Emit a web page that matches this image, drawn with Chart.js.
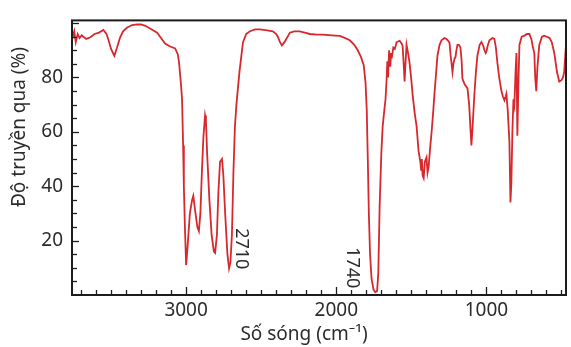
<!DOCTYPE html>
<html lang="vi">
<head>
<meta charset="utf-8">
<script src="https://cdn.jsdelivr.net/npm/chart.js@4.4.0/dist/chart.umd.min.js"></script>
<style>
    html, body { margin: 0; padding: 0; background: #ffffff; }
    #wrap { width: 571px; height: 347px; position: relative; }
</style>
</head>
<body>
<div id="wrap"><canvas id="irChart"></canvas></div>
<script>
// Dữ liệu phổ IR (số sóng cm-1 / độ truyền qua %)
const soSong = [
    3760, 3745, 3735, 3722, 3710, 3695, 3684, 3665, 3638, 3610, 3580, 3551, 3530, 3518, 3500, 3478,
    3460, 3440, 3420, 3392, 3360, 3326, 3300, 3272, 3240, 3193, 3160, 3140, 3110, 3073, 3055, 3047,
    3035, 3027, 3020, 3015, 3008, 3000, 2990, 2975, 2960, 2952, 2940, 2925, 2915, 2905, 2895, 2885,
    2874, 2868, 2860, 2845, 2830, 2815, 2807, 2795, 2785, 2774, 2761, 2752, 2740, 2725, 2714, 2705,
    2695, 2685, 2675, 2665, 2655, 2645, 2630, 2621, 2600, 2575, 2540, 2508, 2460, 2422, 2400, 2389,
    2375, 2362, 2345, 2329, 2309, 2280, 2243, 2210, 2176, 2130, 2090, 2030, 1977, 1940, 1910, 1880,
    1857, 1835, 1817, 1805, 1797, 1790, 1783, 1775, 1765, 1752, 1740, 1728, 1720, 1711, 1700, 1691,
    1680, 1672, 1665, 1660, 1655, 1648, 1640, 1635, 1631, 1620, 1610, 1598, 1578, 1565, 1558, 1550,
    1545, 1538, 1532, 1522, 1512, 1500, 1492, 1478, 1465, 1452, 1440, 1435, 1430, 1425, 1418, 1410,
    1399, 1392, 1385, 1375, 1365, 1355, 1346, 1336, 1326, 1312, 1299, 1280, 1266, 1255, 1246, 1238,
    1230, 1226, 1220, 1212, 1206, 1200, 1193, 1183, 1173, 1165, 1160, 1145, 1126, 1115, 1105, 1100,
    1092, 1080, 1070, 1060, 1045, 1033, 1020, 1013, 1005, 1000, 990, 980, 960, 947, 937, 927,
    915, 900, 890, 880, 872, 867, 858, 847, 840, 834, 827, 820, 814, 806, 800, 794,
    786, 780, 765, 747, 730, 714, 700, 690, 681, 675, 668, 660, 648, 630, 615, 598,
    581, 565, 548, 530, 515, 500, 490, 482, 475, 470
];
const doTruyenQua = [
    94, 97, 93, 96, 94.5, 95.5, 95, 94.2, 94.8, 96, 96.5, 97.5, 96, 94, 90.5, 88,
    91, 94.7, 97, 98.4, 99.3, 99.5, 99.5, 99, 98, 96.5, 94, 92.5, 91.5, 90.7, 88.5, 85.5,
    78, 72, 55, 40, 25, 11, 18, 30, 35, 36.5, 31, 25, 23.5, 30, 45, 58,
    66, 64, 52, 35, 22, 16, 15.5, 22, 38, 49, 50, 44, 30, 15, 9.8, 12,
    22, 45, 62, 70, 76, 82, 89, 93, 96, 97, 97.7, 97.7, 97.3, 97, 96, 95,
    93, 91.8, 93, 94.5, 96.5, 97, 97, 96.5, 96, 95.8, 95.8, 95.5, 95.3, 94.5, 93.7, 92,
    90, 87.5, 84.4, 78, 68, 50, 30, 15, 6, 2, 1, 1.5, 8, 33, 52, 62,
    68, 72, 79, 86, 80, 90, 84, 89, 87, 91, 90.5, 93, 93.5, 92.5, 91.5, 84,
    78.5, 86, 92, 89, 85.5, 79, 74, 67, 62, 53, 49, 46, 50, 44, 43, 49,
    50.6, 45, 47, 54, 60, 67, 74, 81, 88, 92, 93.7, 94.5, 94.2, 93.5, 92.8, 88,
    84, 82, 85, 87, 87.5, 90, 92, 92, 91, 86, 79.6, 77.5, 76, 70, 60, 55,
    62, 74, 82, 88, 92, 93, 91.5, 90, 89, 89.5, 92, 93.7, 94.5, 94.2, 91, 85.5,
    80, 75, 73, 71.6, 73, 74, 68, 56.5, 34, 41, 60, 72, 70, 82, 89, 58.6,
    80, 92, 95, 95.4, 96, 96, 94, 91, 89, 80, 75, 84, 92, 95, 95.4, 95,
    94.6, 93, 89, 82, 78.5, 79, 80, 82, 88, 92
];
const nhanTrucX = [3000, 2000, 1000];
const nhanTrucY = [20, 40, 60, 80];
const nhanDinh = ['2710', '1740'];

const MAU = {
    duong: '#d6282d',
    chu: '#2b2b2b',
    khung: '#1c1c1c'
};
const FONT = '"Noto Sans", "DejaVu Sans", sans-serif';

// Khung, vạch chia hướng vào trong, tên trục và nhãn đỉnh
const khungPlugin = {
    id: 'khungPhoIR',
    afterDatasetsDraw(chart) {
        const { ctx, chartArea: a, scales: { x, y } } = chart;
        ctx.save();
        ctx.strokeStyle = MAU.khung;
        ctx.lineWidth = 1.3;
        for (let v = 500; v <= 3700; v += 100) {
            const px = Math.round(x.getPixelForValue(v)) + 0.5;
            const len = v % 1000 === 0 ? 8 : 5;
            ctx.beginPath();
            ctx.moveTo(px, a.bottom);
            ctx.lineTo(px, a.bottom - len);
            ctx.stroke();
        }
        for (let v = 5; v <= 100; v += 5) {
            const py = Math.round(y.getPixelForValue(v)) + 0.5;
            const len = v % 20 === 0 ? 7 : 5;
            ctx.beginPath();
            ctx.moveTo(a.left, py);
            ctx.lineTo(a.left + len, py);
            ctx.stroke();
        }
        ctx.lineWidth = 2;
        ctx.strokeRect(a.left, a.top, a.right - a.left, a.bottom - a.top);

        // nhãn đỉnh xoay 90 độ
        ctx.fillStyle = MAU.chu;
        ctx.font = '18px ' + FONT;
        ctx.textAlign = 'center';
        ctx.textBaseline = 'middle';
        const viTri = [[11, 17], [-23, 10]];
        nhanDinh.forEach((t, i) => {
            const px = x.getPixelForValue(Number(t)) + viTri[i][0];
            const py = y.getPixelForValue(viTri[i][1]);
            ctx.save();
            ctx.translate(px, py);
            ctx.rotate(Math.PI / 2);
            ctx.fillText(t, 0, 0);
            ctx.restore();
        });

        // tên trục
        ctx.font = '19px ' + FONT;
        ctx.fillText('Số sóng (cm⁻¹)', 304, 335);
        ctx.save();
        ctx.translate(20, 127);
        ctx.rotate(-Math.PI / 2);
        ctx.fillText('Độ truyền qua (%)', 0, 0);
        ctx.restore();
        ctx.restore();
    }
};

new Chart(document.getElementById('irChart').getContext('2d'), {
    type: 'line',
    data: {
        datasets: [{
            data: soSong.map((s, i) => ({ x: s, y: doTruyenQua[i] })),
            borderColor: MAU.duong,
            borderWidth: 1.8,
            pointRadius: 0,
            tension: 0,
            fill: false
        }]
    },
    options: {
        responsive: true,
        maintainAspectRatio: false,
        animation: false,
        layout: { padding: { left: 0, right: 5, top: 9, bottom: 0 } },
        plugins: {
            legend: { display: false },
            tooltip: { enabled: false }
        },
        scales: {
            x: {
                type: 'linear',
                reverse: true,
                min: 470,
                max: 3760,
                grid: { display: false, drawTicks: false },
                border: { display: false },
                ticks: {
                    autoSkip: false,
                    maxRotation: 0,
                    padding: 4,
                    color: MAU.chu,
                    font: { family: FONT, size: 19 },
                    callback: v => String(v)
                },
                afterBuildTicks: s => { s.ticks = nhanTrucX.map(v => ({ value: v })); },
                afterFit: s => { s.height = 52; }
            },
            y: {
                min: 0,
                max: 101,
                grid: { display: false, drawTicks: false },
                border: { display: false },
                ticks: {
                    padding: 9,
                    color: MAU.chu,
                    font: { family: FONT, size: 19 },
                    callback: v => String(v)
                },
                afterBuildTicks: s => { s.ticks = nhanTrucY.map(v => ({ value: v })); },
                afterFit: s => { s.width = 72; }
            }
        }
    },
    plugins: [khungPlugin]
});
</script>
</body>
</html>
